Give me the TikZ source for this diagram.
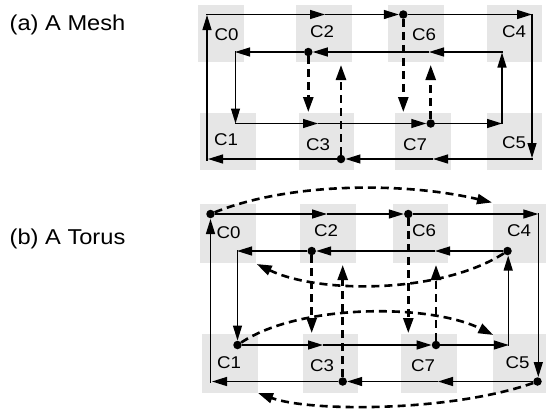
\documentclass[tikz,border=0pt]{standalone}
\usepackage{fontspec}
\setmainfont{Liberation Sans}
\newfontfamily\stfont[FakeStretch=1.1]{Liberation Sans}
\usetikzlibrary{arrows.meta}
\definecolor{boxgray}{HTML}{E6E6E6}
\tikzset{
  cellbox/.style={fill=boxgray, draw=none},
  lbl/.style={font=\stfont\fontsize{17}{19}\selectfont, anchor=base, inner sep=0pt},
  ttl/.style={font=\stfont\fontsize{21.5}{24}\selectfont, anchor=base west, inner sep=0pt},
  link/.style={line width=1.3pt, -{Triangle[length=15pt,width=9pt]}},
  dlink/.style={line width=2.6pt, dash pattern=on 8pt off 5pt, -{Triangle[length=15pt,width=10pt]}},
  dot/.style={circle, fill=black, inner sep=0pt, minimum size=8.5pt},
}
\begin{document}
\begin{tikzpicture}[x=1pt,y=-1pt]
\useasboundingbox (0,0) rectangle (546,408);
% titles
\node[ttl] (ta) at (9.5,30) {(a) A Mesh};
\node[ttl] (tb) at (9.5,244.5) {(b) A Torus};

% ================= MESH =================
\fill[cellbox] (198,5) rectangle (244,62);
\fill[cellbox] (296,5) rectangle (352,62);
\fill[cellbox] (388,5) rectangle (444,62);
\fill[cellbox] (487,5) rectangle (542,62);
\fill[cellbox] (200,113) rectangle (256,170);
\fill[cellbox] (299,113) rectangle (354,170);
\fill[cellbox] (395,113) rectangle (451,170);
\fill[cellbox] (487,113) rectangle (542,170);

\node[lbl] (mC0) at (226.5,40) {C0};
\node[lbl] (mC2) at (322,37.5) {C2};
\node[lbl] (mC6) at (424,40) {C6};
\node[lbl] (mC4) at (514,37.5) {C4};
\node[lbl] (mC1) at (226,145.5) {C1};
\node[lbl] (mC3) at (318,150) {C3};
\node[lbl] (mC7) at (415,150) {C7};
\node[lbl] (mC5) at (514,148) {C5};

% dots
\node[dot] (mdC6) at (403.3,14.5) {};
\node[dot] (mdC2) at (308.3,52) {};
\node[dot] (mdC7) at (430.7,123.5) {};
\node[dot] (mdC3) at (341,159) {};

% coordinates
\coordinate (mOBL) at (207,160.5);
\coordinate (mOTLt) at (207,15);
\coordinate (mOTL) at (206.4,14.5);
\coordinate (mT1) at (325,14.5);
\coordinate (mOTR) at (532,14.5);
\coordinate (mOR) at (532,13.9);
\coordinate (mORb) at (532,158);
\coordinate (mOBR) at (532.6,159);
\coordinate (mB1) at (433,159);
\coordinate (mBL) at (208,159);
\coordinate (mITR) at (502.6,52);
\coordinate (mI1) at (429,52);
\coordinate (mITLt) at (235,52);
\coordinate (mITL) at (235.5,51.4);
\coordinate (mIBLt) at (235.5,123.5);
\coordinate (mIBL) at (234.9,123.5);
\coordinate (mI2) at (318,123.5);
\coordinate (mIBR) at (502,123.5);
\coordinate (mIRb) at (502,124.1);
\coordinate (mIRt) at (502,52.5);
\coordinate (mD1) at (308.3,112);
\coordinate (mD2) at (341,65);
\coordinate (mD3) at (403.3,112);
\coordinate (mD4) at (430.7,65);

% outer loop
\draw[link] (mOBL) -- (mOTLt);
\draw[link] (mOTL) -- (mT1);
\draw[link] (mT1) -- (mdC6);
\draw[link] (mdC6) -- (mOTR);
\draw[link] (mOR) -- (mORb);
\draw[link] (mOBR) -- (mB1);
\draw[link] (mB1) -- (mdC3);
\draw[link] (mdC3) -- (mBL);
% inner loop
\draw[link] (mITR) -- (mI1);
\draw[link] (mI1) -- (mdC2);
\draw[link] (mdC2) -- (mITLt);
\draw[link] (mITL) -- (mIBLt);
\draw[link] (mIBL) -- (mI2);
\draw[link] (mI2) -- (mdC7);
\draw[link] (mdC7) -- (mIBR);
\draw[link] (mIRb) -- (mIRt);
% dashed verticals
\draw[dlink] (mdC2) -- (mD1);
\draw[dlink] (mdC3) -- (mD2);
\draw[dlink] (mdC6) -- (mD3);
\draw[dlink] (mdC7) -- (mD4);

% ================= TORUS =================
\fill[cellbox] (200,204) rectangle (256,262.5);
\fill[cellbox] (300,204) rectangle (356,262.5);
\fill[cellbox] (393,204) rectangle (448,262.5);
\fill[cellbox] (493,204) rectangle (546,262.5);
\fill[cellbox] (202,334) rectangle (258,392.5);
\fill[cellbox] (303,334) rectangle (358,392.5);
\fill[cellbox] (401,334) rectangle (457,392.5);
\fill[cellbox] (493,334) rectangle (546,392.5);

\node[lbl] (tC0) at (228.5,238.5) {C0};
\node[lbl] (tC2) at (326,236.5) {C2};
\node[lbl] (tC6) at (424,236.5) {C6};
\node[lbl] (tC4) at (519,236.5) {C4};
\node[lbl] (tC1) at (229,368) {C1};
\node[lbl] (tC3) at (322,371.5) {C3};
\node[lbl] (tC7) at (423,371.5) {C7};
\node[lbl] (tC5) at (517.5,368) {C5};

% dots
\node[dot] (tdC0) at (210.5,214) {};
\node[dot] (tdC6) at (408.3,214) {};
\node[dot] (tdC5) at (537.5,381.5) {};
\node[dot] (tdC3) at (342.7,381.5) {};
\node[dot] (tdC4) at (507.5,251) {};
\node[dot] (tdC2) at (311.7,251) {};
\node[dot] (tdC1) at (237.5,345) {};
\node[dot] (tdC7) at (436,345) {};

% coordinates
\coordinate (tOBL) at (210.5,383);
\coordinate (tOLt) at (210.5,219);
\coordinate (tT1) at (327,214);
\coordinate (tOTR) at (538.3,214);
\coordinate (tOR) at (538.3,213.4);
\coordinate (tORb) at (538.3,377);
\coordinate (tB1) at (438,381.5);
\coordinate (tBL) at (212,381.5);
\coordinate (tI1) at (435,251);
\coordinate (tITLt) at (237,251);
\coordinate (tITL) at (237.5,250.4);
\coordinate (tI2) at (323,345);
\coordinate (tIBR) at (508.2,345.6);
\coordinate (tIBRt) at (508.8,345);
\coordinate (tIRt) at (508.2,255.5);
\coordinate (tD1) at (311.7,333);
\coordinate (tD2) at (342.7,265);
\coordinate (tD3) at (408.3,333);
\coordinate (tD4) at (436,265);
\coordinate (tA1) at (492,202.5);
\coordinate (tA2) at (258,393);
\coordinate (tA3) at (256.7,264);
\coordinate (tA4) at (493.3,335);

% outer loop
\draw[link] (tOBL) -- (tOLt);
\draw[link] (tdC0) -- (tT1);
\draw[link] (tT1) -- (tdC6);
\draw[link] (tdC6) -- (tOTR);
\draw[link] (tOR) -- (tORb);
\draw[link] (tdC5) -- (tB1);
\draw[link] (tB1) -- (tdC3);
\draw[link] (tdC3) -- (tBL);
% inner loop
\draw[link] (tdC4) -- (tI1);
\draw[link] (tI1) -- (tdC2);
\draw[link] (tdC2) -- (tITLt);
\draw[link] (tITL) -- (tdC1);
\draw[link] (tdC1) -- (tI2);
\draw[link] (tI2) -- (tdC7);
\draw[link] (tdC7) -- (tIBRt);
\draw[link] (tIBR) -- (tIRt);
% dashed verticals
\draw[dlink] (tdC2) -- (tD1);
\draw[dlink] (tdC3) -- (tD2);
\draw[dlink] (tdC6) -- (tD3);
\draw[dlink] (tdC7) -- (tD4);
% wrap-around curves
\draw[dlink] (tdC0) .. controls (290,182) and (405,182) .. (tA1);
\draw[dlink] (tdC5) .. controls (450,412) and (310,412) .. (tA2);
\draw[dlink] (tdC4) .. controls (440,294) and (319,294) .. (tA3);
\draw[dlink] (tdC1) .. controls (300,303.5) and (430,303.5) .. (tA4);
\end{tikzpicture}
\end{document}
